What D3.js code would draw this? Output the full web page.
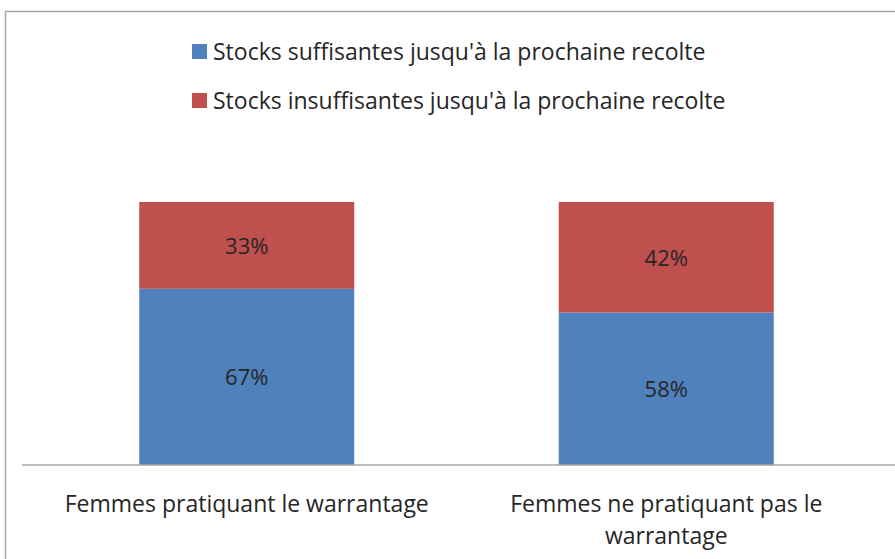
<!DOCTYPE html>
<html>
<head>
<meta charset="utf-8">
<script src="https://cdn.jsdelivr.net/npm/d3@7"></script>
<style>
  body { margin: 0; background: #fff; }
  svg { display: block; font-family: "Open Sans", Lato, sans-serif; }
</style>
</head>
<body>
<svg id="chart"></svg>
<script>
const categories = ["Femmes pratiquant le warrantage", "Femmes ne pratiquant pas le warrantage"];
const seriesNames = ["Stocks suffisantes jusqu'à la prochaine recolte", "Stocks insuffisantes jusqu'à la prochaine recolte"];
const suffisantes = [67, 58];
const insuffisantes = [33, 42];
const colors = ["#4F81BD", "#C0504D"];

const width = 895, height = 559;
const svg = d3.select("#chart").attr("width", width).attr("height", height);

// outer frame
svg.append("rect")
  .attr("x", 5.5).attr("y", 11.5)
  .attr("width", 900).attr("height", 600)
  .attr("fill", "none")
  .attr("stroke", "#A6A6A6")
  .attr("stroke-width", 1.5);

const rows = categories.map((c, i) => ({ cat: c, s0: suffisantes[i], s1: insuffisantes[i] }));
const stacked = d3.stack().keys(["s0", "s1"])(rows);

const x = d3.scaleBand().domain(categories).range([37, 876]).paddingInner(0.4875).paddingOuter(0.24375);
const y = d3.scaleLinear().domain([0, 100]).range([465, 202]);

// bars
const layers = svg.selectAll(".layer").data(stacked).enter().append("g")
  .attr("class", "layer")
  .attr("fill", (d, i) => colors[i]);

layers.selectAll("rect").data(d => d).enter().append("rect")
  .attr("x", d => x(d.data.cat))
  .attr("y", d => y(d[1]))
  .attr("width", x.bandwidth())
  .attr("height", d => y(d[0]) - y(d[1]));

// data labels
layers.selectAll("text").data(d => d).enter().append("text")
  .attr("x", d => x(d.data.cat) + x.bandwidth() / 2)
  .attr("y", d => (y(d[0]) + y(d[1])) / 2)
  .attr("dy", "0.38em")
  .attr("text-anchor", "middle")
  .attr("fill", "#262626")
  .attr("font-size", 22)
  .text(d => (d[1] - d[0]) + "%");

// baseline
svg.append("line")
  .attr("x1", 22).attr("x2", 895)
  .attr("y1", y(0)).attr("y2", y(0))
  .attr("stroke", "#A6A6A6")
  .attr("stroke-width", 1.5);

// category labels, wrapped like the original
const catLines = [["Femmes pratiquant le warrantage"], ["Femmes ne pratiquant pas le", "warrantage"]];
categories.forEach((c, i) => {
  const t = svg.append("text")
    .attr("text-anchor", "middle")
    .attr("fill", "#262626")
    .attr("font-size", 23);
  catLines[i].forEach((ln, j) => {
    t.append("tspan")
      .attr("x", x(c) + x.bandwidth() / 2)
      .attr("y", 512 + j * 32)
      .text(ln);
  });
});

// legend
const legend = svg.append("g").attr("transform", "translate(192,0)");
seriesNames.forEach((name, i) => {
  const g = legend.append("g").attr("transform", `translate(0,${60 + i * 49})`);
  g.append("rect").attr("x", 0).attr("y", -16).attr("width", 15).attr("height", 15).attr("fill", colors[i]);
  g.append("text").attr("x", 21)
    .attr("fill", "#262626").attr("font-size", 23)
    .text(name);
});
</script>
</body>
</html>
